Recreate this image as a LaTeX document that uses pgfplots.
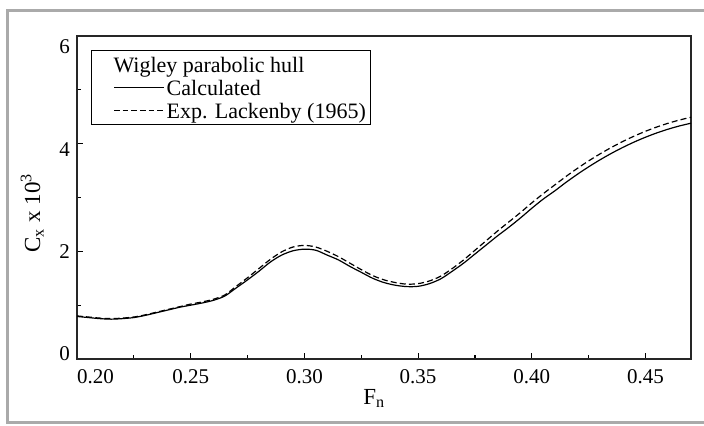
\documentclass[border=0pt]{standalone}
\usepackage{fontspec}
\setmainfont{Liberation Serif}
\usepackage{pgfplots}
\usepackage{pgfplotstable}
\pgfplotsset{compat=1.18}
\definecolor{framegray}{RGB}{170,170,170}
\newcommand{\yl}[2]{\raisebox{#1}[0pt][0pt]{#2}}
\newcommand{\sample}[1]{\tikz[baseline=-3.6pt]\draw[black, line width=0.6pt, #1] (0pt,0pt) -- (25pt,0pt);}

% calculated wave resistance
\pgfplotstableread{
Fn Cx
0.200 0.79
0.205 0.77
0.210 0.75
0.215 0.74
0.220 0.75
0.225 0.77
0.230 0.81
0.235 0.86
0.240 0.91
0.245 0.96
0.250 1.00
0.255 1.04
0.260 1.09
0.265 1.17
0.270 1.32
0.275 1.47
0.280 1.63
0.285 1.80
0.290 1.93
0.295 2.01
0.300 2.04
0.305 2.02
0.310 1.93
0.315 1.84
0.320 1.72
0.325 1.61
0.330 1.50
0.335 1.42
0.340 1.37
0.345 1.345
0.350 1.35
0.355 1.40
0.360 1.49
0.365 1.63
0.370 1.78
0.375 1.95
0.380 2.12
0.385 2.29
0.390 2.45
0.395 2.62
0.400 2.80
0.405 2.97
0.410 3.12
0.415 3.28
0.420 3.43
0.425 3.57
0.430 3.70
0.435 3.82
0.440 3.93
0.445 4.03
0.450 4.12
0.455 4.20
0.460 4.27
0.465 4.33
0.470 4.38
}\calc

% experiment, Lackenby 1965
\pgfplotstableread{
Fn Cx
0.200 0.80
0.205 0.78
0.210 0.76
0.215 0.75
0.220 0.76
0.225 0.78
0.230 0.82
0.235 0.87
0.240 0.92
0.245 0.97
0.250 1.02
0.255 1.06
0.260 1.11
0.265 1.19
0.270 1.35
0.275 1.51
0.280 1.68
0.285 1.85
0.290 1.99
0.295 2.08
0.300 2.11
0.305 2.08
0.310 2.00
0.315 1.90
0.320 1.78
0.325 1.66
0.330 1.55
0.335 1.47
0.340 1.42
0.345 1.39
0.350 1.40
0.355 1.45
0.360 1.54
0.365 1.68
0.370 1.84
0.375 2.02
0.380 2.20
0.385 2.38
0.390 2.55
0.395 2.72
0.400 2.90
0.405 3.07
0.410 3.23
0.415 3.39
0.420 3.54
0.425 3.68
0.430 3.81
0.435 3.93
0.440 4.04
0.445 4.14
0.450 4.23
0.455 4.31
0.460 4.38
0.465 4.44
0.470 4.49
}\expt

\begin{document}
\begin{tikzpicture}
\useasboundingbox (0,0) rectangle (352pt,213pt);
\fill[white] (0,0) rectangle (352pt,213pt);
\draw[framegray, line width=1.5pt] (356pt,207.5pt) -- (3.5pt,207.5pt) -- (3.5pt,1.5pt) -- (356pt,1.5pt);
\begin{axis}[
    at={(38.5pt,33.5pt)}, anchor=south west,
    scale only axis,
    width=307pt, height=161.5pt,
    xmin=0.2, xmax=0.47,
    ymin=0, ymax=6,
    xtick={0.20,0.25,0.30,0.35,0.40,0.45},
    xticklabels={\makebox[0pt][l]{0.20},0.25,0.30,0.35,0.40,0.45},
    ytick={0,2,4,6},
    yticklabels={\yl{-0.8pt}{0},\yl{-3.8pt}{2},\yl{-6.5pt}{4},\yl{-9pt}{6}},
    minor x tick num=1,
    minor y tick num=1,
    tick pos=left,
    tick align=inside,
    major tick length=3.2pt,
    minor tick length=2pt,
    every tick/.style={black, line width=0.6pt},
    axis line style={line width=0.8pt, black!85},
    xticklabel style={font=\fontsize{10.5}{12}\selectfont, yshift=-1.5pt},
    yticklabel style={font=\fontsize{10.5}{12}\selectfont},
    xlabel={F\textsubscript{n}},
    ylabel={C\textsubscript{x} x 10\textsuperscript{3}},
    xlabel style={at={(rel axis cs:0.484,-0.14)}, anchor=base, font=\fontsize{11.5}{13}\selectfont},
    ylabel style={at={(rel axis cs:-0.073,0.452)}, anchor=center, font=\fontsize{11.5}{13}\selectfont},
]
\addplot[black, line width=0.6pt, smooth] table[x=Fn, y=Cx] {\calc};
\addplot[black, line width=0.6pt, smooth, dash pattern=on 3pt off 1.6pt] table[x=Fn, y=Cx] {\expt};

% legend box
\node[draw=black, line width=0.5pt, fill=white, anchor=north west, inner sep=0pt,
      font=\fontsize{11}{11.5}\selectfont, xshift=7pt, yshift=-7pt]
  at (rel axis cs:0,1) {%
  \begin{tabular}{@{\hspace{11pt}}l@{\hspace{1pt}}l@{\hspace{2.3pt}}}
  \multicolumn{2}{@{\hspace{11pt}}l@{\hspace{2.3pt}}}{\rule{0pt}{10.8pt}Wigley parabolic hull}\\
  \sample{} & Calculated\\
  \sample{dash pattern=on 2.8pt off 1.5pt} & Exp. Lackenby (1965)
  \end{tabular}};
\end{axis}
\end{tikzpicture}
\end{document}
